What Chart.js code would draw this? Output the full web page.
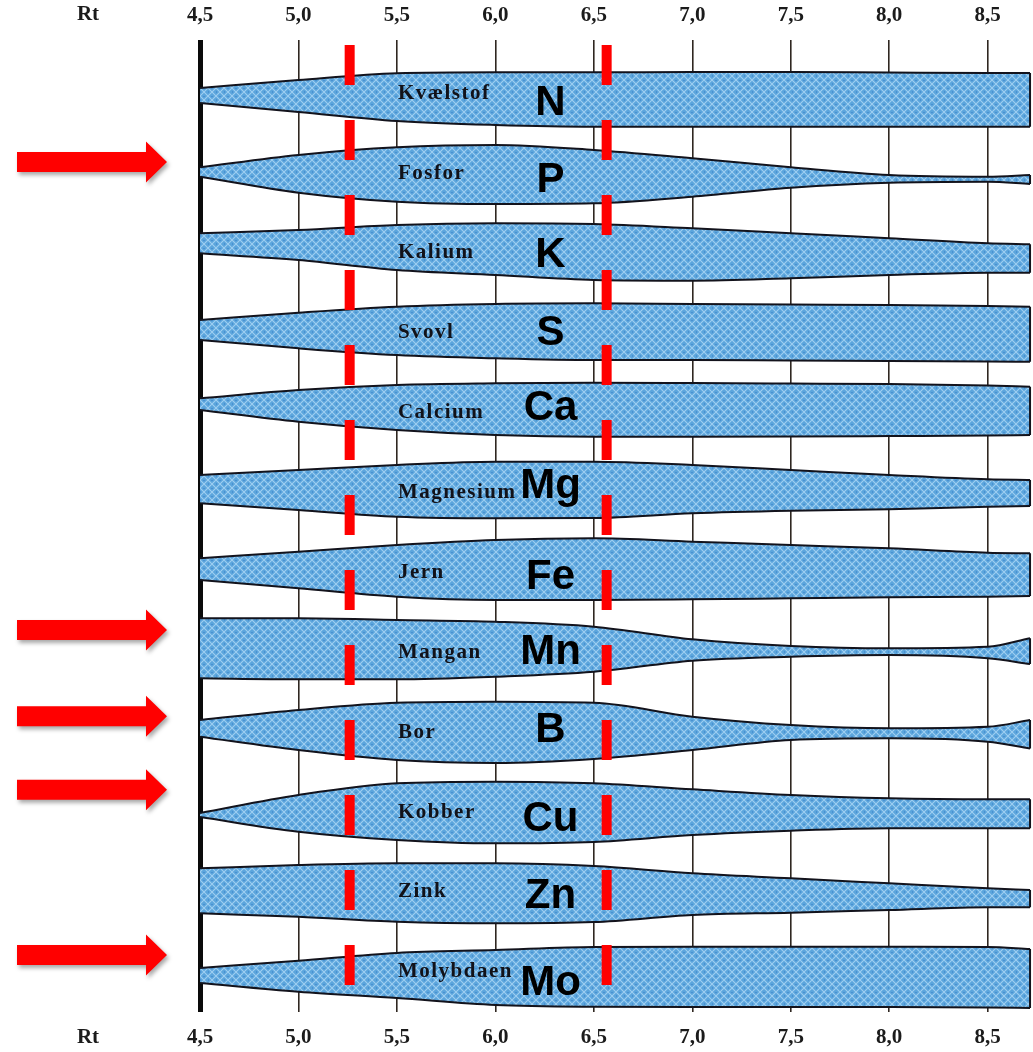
<!DOCTYPE html>
<html>
<head>
<meta charset="utf-8">
<script src="https://cdn.jsdelivr.net/npm/chart.js@4.4.1/dist/chart.umd.min.js"></script>
<style>
html,body{margin:0;padding:0;background:#ffffff;}
#wrap{width:1033px;height:1052px;position:relative;}
canvas{display:block;}
</style>
</head>
<body>
<div id="wrap"><canvas id="c" width="1033" height="1052"></canvas></div>
<script>
// ---------- DATA ----------
const phPoints   = [4.5, 5.0, 5.5, 6.0, 6.5, 7.0, 7.5, 8.0, 8.5, 8.715];
const tickValues = [4.5, 5.0, 5.5, 6.0, 6.5, 7.0, 7.5, 8.0, 8.5];
const tickLabels = ['4,5', '5,0', '5,5', '6,0', '6,5', '7,0', '7,5', '8,0', '8,5'];
const axisTitle  = 'Rt';
const nutrientNames   = ['Kvælstof', 'Fosfor', 'Kalium', 'Svovl', 'Calcium', 'Magnesium', 'Jern', 'Mangan', 'Bor', 'Kobber', 'Zink', 'Molybdaen'];
const nutrientSymbols = ['N', 'P', 'K', 'S', 'Ca', 'Mg', 'Fe', 'Mn', 'B', 'Cu', 'Zn', 'Mo'];
const highlighted     = ['P', 'Mn', 'B', 'Cu', 'Mo'];
const optimumPH       = [5.26, 6.565];

// availability: extent of each band above (up) and below (down) its row, in row units
const N_up    = [0.065, 0.165, 0.249, 0.262, 0.262, 0.265, 0.265, 0.259, 0.253, 0.253];
const N_down  = [0.123, 0.235, 0.348, 0.398, 0.419, 0.419, 0.419, 0.419, 0.419, 0.419];
const P_up    = [0.073, 0.227, 0.323, 0.352, 0.289, 0.185, 0.073, -0.024, -0.045, -0.024];
const P_down  = [0.045, 0.245, 0.358, 0.387, 0.378, 0.295, 0.183, 0.120, 0.108, 0.136];
const K_up    = [0.247, 0.288, 0.351, 0.372, 0.363, 0.309, 0.247, 0.184, 0.121, 0.109];
const K_down  = [0.004, 0.088, 0.213, 0.275, 0.338, 0.347, 0.317, 0.275, 0.247, 0.247];
const S_up    = [0.160, 0.252, 0.327, 0.361, 0.369, 0.361, 0.354, 0.348, 0.336, 0.327];
const S_down  = [0.090, 0.194, 0.278, 0.319, 0.341, 0.341, 0.347, 0.353, 0.359, 0.362];
const Ca_up   = [0.180, 0.284, 0.347, 0.368, 0.376, 0.372, 0.366, 0.359, 0.341, 0.325];
const Ca_down = [-0.034, 0.113, 0.217, 0.279, 0.300, 0.300, 0.298, 0.292, 0.285, 0.279];
const Mg_up   = [0.220, 0.283, 0.346, 0.387, 0.387, 0.346, 0.283, 0.220, 0.166, 0.158];
const Mg_down = [0.134, 0.218, 0.302, 0.322, 0.318, 0.259, 0.227, 0.209, 0.177, 0.168];
const Fe_up   = [0.178, 0.260, 0.344, 0.407, 0.428, 0.386, 0.344, 0.303, 0.248, 0.240];
const Fe_down = [0.094, 0.198, 0.303, 0.344, 0.344, 0.336, 0.323, 0.310, 0.303, 0.294];
const Mn_up   = [0.427, 0.427, 0.406, 0.384, 0.322, 0.164, 0.080, 0.051, 0.071, 0.177];
const Mn_down = [0.324, 0.337, 0.337, 0.304, 0.242, 0.104, 0.054, 0.033, 0.074, 0.145];
const B_up    = [0.153, 0.278, 0.369, 0.382, 0.369, 0.194, 0.090, 0.049, 0.069, 0.153];
const B_down  = [0.056, 0.223, 0.348, 0.386, 0.336, 0.223, 0.098, 0.076, 0.119, 0.202];
const Cu_up   = [-0.011, 0.214, 0.361, 0.381, 0.361, 0.285, 0.214, 0.173, 0.160, 0.160];
const Cu_down = [0.061, 0.245, 0.349, 0.391, 0.374, 0.287, 0.233, 0.203, 0.203, 0.203];
const Zn_up   = [0.297, 0.338, 0.359, 0.359, 0.325, 0.234, 0.172, 0.109, 0.046, 0.025];
const Zn_down = [0.267, 0.309, 0.372, 0.392, 0.376, 0.288, 0.259, 0.225, 0.192, 0.192];
const Mo_up   = [0.049, 0.140, 0.237, 0.274, 0.312, 0.315, 0.315, 0.315, 0.312, 0.287];
const Mo_down = [0.139, 0.248, 0.327, 0.414, 0.436, 0.439, 0.439, 0.439, 0.446, 0.452];

const bandUp   = [N_up, P_up, K_up, S_up, Ca_up, Mg_up, Fe_up, Mn_up, B_up, Cu_up, Zn_up, Mo_up];
const bandDown = [N_down, P_down, K_down, S_down, Ca_down, Mg_down, Fe_down, Mn_down, B_down, Cu_down, Zn_down, Mo_down];

// ---------- STYLE ----------
function makePattern() {
  const s = 8;
  const c = document.createElement('canvas');
  c.width = s; c.height = s;
  const g = c.getContext('2d');
  g.fillStyle = '#5ba5dc';
  g.fillRect(0, 0, s, s);
  g.strokeStyle = 'rgba(170,214,244,0.85)';
  g.lineWidth = 1.1;
  g.beginPath();
  g.moveTo(-1, -1); g.lineTo(s + 1, s + 1);
  g.moveTo(-1, s + 1); g.lineTo(s + 1, -1);
  g.stroke();
  g.fillStyle = 'rgba(60,130,200,0.55)';
  g.fillRect(s / 2 - 1, 0, 2, 1);
  g.fillRect(0, s / 2 - 1, 1, 2);
  return document.getElementById('c').getContext('2d').createPattern(c, 'repeat');
}
const fillPattern = makePattern();
const edgeColor = '#13131c';
const serif = '"Liberation Serif", "Times New Roman", serif';
const sans = '"Liberation Sans", Arial, sans-serif';

const datasets = [];
nutrientSymbols.forEach((sym, r) => {
  const up = bandUp[r], down = bandDown[r];
  const last = phPoints.length - 1;
  datasets.push({
    label: sym + ' upper',
    data: phPoints.map((x, j) => ({ x: x, y: r - up[j] })),
    borderColor: edgeColor, borderWidth: 2, pointRadius: 0, fill: false,
    cubicInterpolationMode: 'monotone'
  });
  datasets.push({
    label: sym + ' lower',
    data: phPoints.map((x, j) => ({ x: x, y: r + down[j] })),
    borderColor: edgeColor, borderWidth: 2, pointRadius: 0, fill: '-1',
    backgroundColor: fillPattern,
    cubicInterpolationMode: 'monotone'
  });
  datasets.push({
    label: sym + ' end',
    data: [{ x: phPoints[last], y: r - up[last] }, { x: phPoints[last], y: r + down[last] }],
    borderColor: edgeColor, borderWidth: 2, pointRadius: 0, fill: false, tension: 0
  });
});

function tickText(v) {
  const i = tickValues.findIndex(t => Math.abs(t - v) < 1e-6);
  return i >= 0 ? tickLabels[i] : '';
}

// layout tweaks for the big symbols (px) and arrows (row units)
const symbolDy = [9.8, 6.9, 2, 0.2, -4.7, -6.6, 4.5, -0.4, -2.2, 6.9, 4, 11.1];
const arrowDy = { P: -0.14, Mn: -0.28, B: -0.2, Cu: -0.28, Mo: -0.21 };

function drawArrow(ctx, x0, x1, yc) {
  const shaftH = 20, headH = 41, headL = 21;
  ctx.beginPath();
  ctx.moveTo(x0, yc - shaftH / 2);
  ctx.lineTo(x1 - headL, yc - shaftH / 2);
  ctx.lineTo(x1 - headL, yc - headH / 2);
  ctx.lineTo(x1, yc);
  ctx.lineTo(x1 - headL, yc + headH / 2);
  ctx.lineTo(x1 - headL, yc + shaftH / 2);
  ctx.lineTo(x0, yc + shaftH / 2);
  ctx.closePath();
  ctx.fill();
}

const overlay = {
  id: 'overlay',
  afterDraw(chart) {
    const { ctx, chartArea: a, scales } = chart;
    const xs = scales.x, ys = scales.y;
    ctx.save();
    // axis titles
    ctx.fillStyle = '#1b1b1b';
    ctx.font = 'bold 21px ' + serif;
    ctx.textAlign = 'center';
    ctx.textBaseline = 'middle';
    ctx.fillText(axisTitle, 88, a.top - 25);
    ctx.fillText(axisTitle, 88, a.bottom + 26);
    // nutrient names
    ctx.fillStyle = '#121219';
    ctx.font = 'bold 21px ' + serif;
    ctx.textAlign = 'left';
    try { ctx.letterSpacing = '1.5px'; } catch (e) {}
    nutrientNames.forEach((n, r) => {
      ctx.fillText(n, xs.getPixelForValue(5.5) + 1, ys.getPixelForValue(r));
    });
    try { ctx.letterSpacing = '0px'; } catch (e) {}
    // symbols
    ctx.fillStyle = '#000000';
    ctx.font = 'bold 42px ' + sans;
    ctx.textAlign = 'center';
    nutrientSymbols.forEach((s, r) => {
      ctx.fillText(s, xs.getPixelForValue(6.28), ys.getPixelForValue(r) + symbolDy[r]);
    });
    // optimum range dashed red lines
    ctx.fillStyle = '#ff0000';
    optimumPH.forEach(ph => {
      const px = xs.getPixelForValue(ph);
      for (let yy = a.top + 5; yy < a.bottom - 20; yy += 75) {
        ctx.fillRect(px - 5, yy, 10, 40);
      }
    });
    // arrows
    ctx.shadowColor = 'rgba(0,0,0,0.35)';
    ctx.shadowBlur = 4;
    ctx.shadowOffsetX = 2;
    ctx.shadowOffsetY = 3;
    ctx.fillStyle = '#ff0000';
    highlighted.forEach(sym => {
      const r = nutrientSymbols.indexOf(sym);
      drawArrow(ctx, 17, 167, ys.getPixelForValue(r + arrowDy[sym]));
    });
    ctx.restore();
  }
};

const tickFont = { family: serif, size: 21, weight: 'bold' };

new Chart(document.getElementById('c'), {
  type: 'line',
  data: { datasets: datasets },
  options: {
    responsive: false,
    animation: false,
    events: [],
    layout: { padding: 0 },
    plugins: {
      legend: { display: false },
      tooltip: { enabled: false },
      filler: { drawTime: 'beforeDatasetsDraw' }
    },
    scales: {
      x: {
        type: 'linear', position: 'bottom', min: 4.5, max: 8.73, z: 1,
        afterBuildTicks: s => { s.ticks = tickValues.map(v => ({ value: v })); },
        afterFit: s => { s.height = 40; },
        ticks: { callback: v => tickText(v), padding: 13, font: tickFont, color: '#1b1b1b', maxRotation: 0, autoSkip: false },
        grid: {
          drawTicks: false,
          color: c => (c.tick && Math.abs(c.tick.value - 4.5) < 1e-6) ? '#0a0a0a' : '#2f2721',
          lineWidth: c => (c.tick && Math.abs(c.tick.value - 4.5) < 1e-6) ? 5 : 1.6
        },
        border: { display: false }
      },
      x2: {
        type: 'linear', position: 'top', min: 4.5, max: 8.73,
        afterBuildTicks: s => { s.ticks = tickValues.map(v => ({ value: v })); },
        afterFit: s => { s.height = 40; },
        ticks: { callback: v => tickText(v), padding: 12, font: tickFont, color: '#1b1b1b', maxRotation: 0, autoSkip: false },
        grid: { display: false, drawTicks: false },
        border: { display: false }
      },
      y: {
        type: 'linear', min: -0.666, max: 11.502, reverse: true,
        afterFit: s => { s.width = 200; },
        ticks: { display: false },
        grid: { display: false, drawTicks: false },
        border: { display: false }
      }
    }
  },
  plugins: [overlay]
});
</script>
</body>
</html>
